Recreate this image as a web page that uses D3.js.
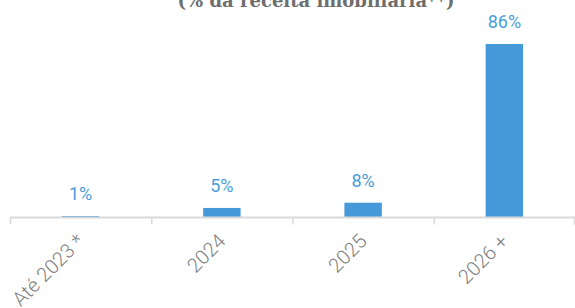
<!DOCTYPE html>
<html>
<head>
<meta charset="utf-8">
<script src="https://cdn.jsdelivr.net/npm/d3@7"></script>
<style>
  body { margin: 0; background: #fff; }
  svg { display: block; }
</style>
</head>
<body>
<svg id="viz" width="575" height="308"></svg>
<script>
var categories = ["Até 2023 *", "2024", "2025", "2026 +"];
var values = [0.5, 4.5, 7.1, 86];
var valueLabels = ["1%", "5%", "8%", "86%"];
var title = "(% da receita imobiliária**)";

function drawChart() {
  var svg = d3.select("#viz");
  var margin = { top: 44, left: 10, bottom: 91, right: 0 };
  var width = +svg.attr("width");
  var height = +svg.attr("height");
  var baseY = height - margin.bottom;

  var x = d3
    .scaleBand()
    .domain(categories)
    .range([margin.left, width - margin.right]);
  var y = d3
    .scaleLinear()
    .domain([0, d3.max(values)])
    .range([baseY, margin.top]);

  var barW = x.bandwidth() * 0.265;

  // title, cut off by the top edge like in the original
  svg
    .append("text")
    .attr("x", 316)
    .attr("y", 7)
    .attr("text-anchor", "middle")
    .style("font-family", "'DejaVu Serif', serif")
    .style("font-weight", "bold")
    .style("font-size", "18px")
    .style("fill", "#6e6e6e")
    .text(title);

  // bars
  svg
    .selectAll(".bar")
    .data(values)
    .enter()
    .append("rect")
    .attr("class", "bar")
    .attr("x", function (d, i) {
      return x(categories[i]) + x.bandwidth() / 2 - barW / 2;
    })
    .attr("y", function (d) {
      return y(d);
    })
    .attr("width", barW)
    .attr("height", function (d) {
      return baseY - y(d);
    })
    .attr("fill", "#4599d8");

  // value labels
  svg
    .selectAll(".val")
    .data(values)
    .enter()
    .append("text")
    .attr("class", "val")
    .attr("x", function (d, i) {
      return x(categories[i]) + x.bandwidth() / 2;
    })
    .attr("y", function (d) {
      return y(d) - 16;
    })
    .attr("text-anchor", "middle")
    .style("font-family", "Roboto, sans-serif")
    .style("font-size", "18px")
    .style("fill", "#4a9ddc")
    .text(function (d, i) {
      return valueLabels[i];
    });

  // x axis
  var axis = svg
    .append("g")
    .attr("transform", "translate(0," + (baseY + 0.5) + ")")
    .call(d3.axisBottom(x).tickSize(0).tickFormat(""));
  axis.select(".domain").remove();
  axis.selectAll(".tick text").remove();

  axis
    .append("line")
    .attr("x1", margin.left)
    .attr("x2", width)
    .attr("stroke", "#d9d9d9")
    .attr("stroke-width", 2);

  var edges = categories.map(function (c) {
    return x(c);
  });
  edges.push(width - 1);
  axis
    .selectAll(".edge")
    .data(edges)
    .enter()
    .append("line")
    .attr("x1", function (d) {
      return d + 0.5;
    })
    .attr("x2", function (d) {
      return d + 0.5;
    })
    .attr("y1", 0)
    .attr("y2", 7)
    .attr("stroke", "#d9d9d9")
    .attr("stroke-width", 1.5);

  axis
    .selectAll(".lab")
    .data(categories)
    .enter()
    .append("text")
    .attr("class", "lab")
    .attr("transform", function (d) {
      return (
        "translate(" + (x(d) + x.bandwidth() / 2 + 5) + ",25) rotate(-45)"
      );
    })
    .attr("text-anchor", "end")
    .style("font-family", "Roboto, sans-serif")
    .style("font-weight", "300")
    .style("font-size", "20px")
    .style("fill", "#808080")
    .text(function (d) {
      return d;
    });
}

drawChart();
</script>
</body>
</html>
